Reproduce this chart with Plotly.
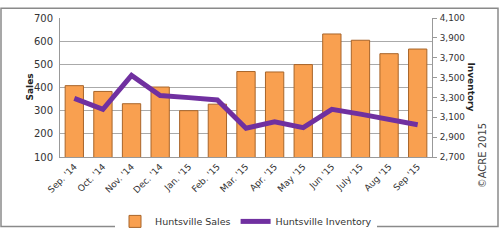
import plotly.graph_objects as go

months = ["Sep. '14", "Oct. '14", "Nov. '14", "Dec. '14", "Jan. '15", "Feb. '15",
          "Mar. '15", "Apr. '15", "May '15", "Jun '15", "July '15", "Aug '15", "Sep '15"]
sales = [408, 383, 330, 402, 300, 328, 469, 467, 499, 631, 604, 546, 566]
inventory = [3290, 3180, 3522, 3320, 3298, 3275, 2990, 3055, 2995, 3180, 3132, 3080, 3025]

sales_ticks = [100, 200, 300, 400, 500, 600, 700]
inv_ticks = [2700, 2900, 3100, 3300, 3500, 3700, 3900, 4100]

FONT = "DejaVu Sans"
W, H = 500, 248
L, R, T, B = 60, 68, 12, 80

fig = go.Figure()
fig.add_trace(go.Bar(
    x=months, y=sales, name="Huntsville Sales",
    marker=dict(color="#F9A050", line=dict(color="#A8652A", width=1)),
    yaxis="y",
))
fig.add_trace(go.Scatter(
    x=months, y=inventory, name="Huntsville Inventory", mode="lines",
    line=dict(color="#7030A0", width=5), yaxis="y2",
))

def px2x(px):
    return (px - L) / (W - L - R)

def px2y(py):
    return (H - B - py) / (H - T - B)

fig.update_layout(
    width=W, height=H,
    margin=dict(l=L, r=R, t=T, b=B),
    paper_bgcolor="white", plot_bgcolor="white",
    font=dict(family=FONT, size=10, color="#333333"),
    bargap=0.36,
    showlegend=True,
    legend=dict(orientation="h", x=0.5, xanchor="center", y=px2y(224), yanchor="top",
                font=dict(size=9.5, color="#333333"), itemwidth=30, traceorder="normal"),
    xaxis=dict(tickangle=-45, tickfont=dict(size=9), showline=True, linecolor="#999999",
               ticks="", showgrid=False),
    yaxis=dict(range=[100, 700], tickvals=sales_ticks, showgrid=True, gridcolor="#AAAAAA",
               showline=True, linecolor="#999999", ticks="", tickfont=dict(size=10),
               zeroline=False, ticklabelstandoff=4),
    yaxis2=dict(range=[2700, 4100], tickvals=inv_ticks, overlaying="y", side="right",
                tickformat=",", showgrid=False, showline=True, linecolor="#999999",
                ticks="outside", ticklen=4, tickcolor="#999999", tickfont=dict(size=8.8),
                zeroline=False, ticklabelstandoff=1),
    annotations=[
        dict(text="<b>Sales</b>", xref="paper", yref="paper", x=px2x(22), y=px2y(90),
             textangle=-90, showarrow=False, font=dict(size=9, color="#222222")),
        dict(text="<b>Inventory</b>", xref="paper", yref="paper", x=px2x(478), y=px2y(90),
             textangle=90, showarrow=False, font=dict(size=9, color="#222222")),
        dict(text="©ACRE 2015", xref="paper", yref="paper", x=px2x(490), y=px2y(206),
             textangle=-90, showarrow=False, font=dict(size=10, color="#444444")),
    ],
    shapes=[
        dict(type="rect", xref="paper", yref="paper", x0=px2x(1), x1=px2x(498),
             y0=px2y(246), y1=px2y(1), line=dict(color="#8A8A8A", width=1.5)),
    ],
)

fig.write_html("out.html")
